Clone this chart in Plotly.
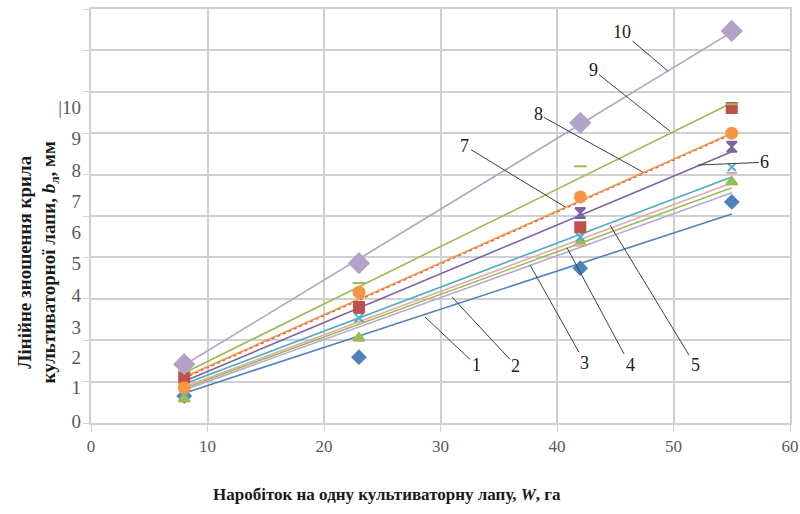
import plotly.graph_objects as go

# ---- data ----
x_points = [8, 23, 42, 55]
trend_x = [8, 55]

series_names = ["1", "2", "3", "4", "5", "6", "7", "8", "9", "10"]
line_colors = ["#4F81BD", "#B9A8D0", "#9BBB59", "#E6A9A8", "#4BACC6",
               "#8064A2", "#C0504D", "#F79646", "#9BBB59", "#B3A2C7"]
trend_start = [0.72, 0.80, 0.84, 0.87, 0.94, 1.01, 1.09, 1.11, 1.21, 1.40]
trend_end = [5.05, 5.56, 5.68, 5.80, 5.94, 6.55, 6.98, 7.00, 7.73, 9.44]

# measured points
pts_1 = [0.65, 1.59, 3.74, 5.34]
pts_3 = [0.58, 2.05, 4.35, 5.82]
pts_4 = [0.92, 2.45, 4.30, 6.04]
pts_5 = [0.75, 2.54, 4.49, 6.18]
pts_6 = [0.97, 2.78, 5.07, 6.67]
pts_7 = [1.10, 2.80, 4.73, 7.61]
pts_8 = [0.85, 3.16, 5.46, 7.00]
pts_9 = [1.25, 3.38, 6.20, 7.70]
pts_10 = [1.42, 3.86, 7.25, 9.47]

x_ticks = [0, 10, 20, 30, 40, 50, 60]
y_tick_text = ["0", "1", "2", "3", "4", "5", "6", "7", "8", "9", "|10"]
y_tick_pos = [0.05, 0.87, 1.59, 2.32, 3.09, 3.86, 4.61, 5.36, 6.11, 6.88, 7.63]

# line label: (text, text_x, text_y, target_x, target_y)
line_labels = [
    ("1", 33.05, 1.40, 28.67, 2.56),
    ("2", 36.48, 1.38, 30.99, 3.04),
    ("3", 42.40, 1.45, 37.68, 3.82),
    ("4", 46.27, 1.40, 40.86, 4.23),
    ("5", 51.85, 1.40, 44.55, 4.78),
    ("6", 57.85, 6.30, 52.10, 6.23),
    ("7", 32.10, 6.69, 40.69, 5.22),
    ("8", 38.37, 7.46, 47.38, 6.06),
    ("9", 43.09, 8.53, 49.70, 7.05),
    ("10", 45.58, 9.44, 49.53, 8.50),
]

fig = go.Figure()

# trend lines
for i, name in enumerate(series_names):
    dash = "dot" if name == "7" else "solid"
    fig.add_trace(go.Scatter(
        x=trend_x, y=[trend_start[i], trend_end[i]], mode="lines",
        line=dict(color=line_colors[i], width=1.6, dash=dash),
        showlegend=False, hoverinfo="skip"))

# markers
markers = [
    (pts_1, "#4F81BD", "diamond", 10),
    (pts_3, "#9BBB59", "triangle-up", 10),
    (pts_4, "#E6A9A8", "line-ew-open", 8),
    (pts_5, "#4BACC6", "x-thin-open", 8),
    (pts_6, "#8064A2", "hourglass", 10),
    (pts_7, "#C0504D", "square", 10),
    (pts_8, "#F79646", "circle", 11),
    (pts_9, "#9BBB59", "line-ew-open", 9),
    (pts_10, "#B3A2C7", "diamond", 15),
]
for vals, col, sym, sz in markers:
    fig.add_trace(go.Scatter(
        x=x_points, y=vals, mode="markers",
        marker=dict(symbol=sym, color=col, size=sz,
                    line=dict(color=col, width=2)),
        showlegend=False, hoverinfo="skip"))

# dummy trace on yaxis2 so it renders
fig.add_trace(go.Scatter(x=[None], y=[None], yaxis="y2", showlegend=False))

ann = []
for txt, tx, ty, px, py in line_labels:
    ann.append(dict(x=px, y=py, xref="x", yref="y", ax=tx, ay=ty,
                    axref="x", ayref="y", text=txt, showarrow=True,
                    arrowhead=0, arrowwidth=1, arrowcolor="#404040",
                    standoff=0, startstandoff=0,
                    font=dict(family="Liberation Serif", size=18, color="#1a1a1a")))

ann.append(dict(xref="paper", yref="paper", x=-0.075, y=0.389,
                xanchor="center", yanchor="middle",
                text="<b>Лінійне зношення крила<br>культиваторної лапи, <i>b</i><sub>л</sub>, мм</b>",
                textangle=-90, showarrow=False,
                font=dict(family="Liberation Serif", size=19, color="#1a1a1a")))
ann.append(dict(xref="paper", yref="paper", x=0.4235, y=-0.172,
                xanchor="center", yanchor="middle",
                text="<b>Наробіток на одну культиваторну лапу, <i>W</i>, га</b>",
                showarrow=False,
                font=dict(family="Liberation Serif", size=17, color="#1a1a1a")))

grid_col = "#D0D0D0"
fig.update_layout(
    width=800, height=514,
    margin=dict(l=91, r=10, t=9, b=91, autoexpand=False),
    paper_bgcolor="white", plot_bgcolor="white",
    font=dict(family="Liberation Serif", size=17, color="#595959"),
    xaxis=dict(range=[0, 60], tickvals=x_ticks, showgrid=True, automargin=False,
               gridcolor=grid_col, gridwidth=1.5, zeroline=False,
               showline=True, linecolor=grid_col, linewidth=1.5, mirror=True,
               ticks="outside", ticklen=7, tickcolor=grid_col,
               tickfont=dict(family="Liberation Serif", size=17, color="#595959")),
    yaxis=dict(range=[0, 10], dtick=1, showgrid=True, gridcolor=grid_col,
               automargin=False,
               gridwidth=1.5, zeroline=False, showline=True, linecolor=grid_col,
               linewidth=1.5, mirror=True, ticks="outside", ticklen=6,
               tickcolor=grid_col, showticklabels=False),
    yaxis2=dict(range=[0, 10], overlaying="y", side="left", anchor="x",
                automargin=False,
                tickvals=y_tick_pos, ticktext=y_tick_text, showgrid=False,
                zeroline=False, showline=False, ticks="", ticklabelstandoff=9,
                tickfont=dict(family="Liberation Serif", size=19, color="#595959")),
    annotations=ann,
)

fig.write_html("out.html", config={"displayModeBar": False},
               post_script="document.body.style.margin='0';document.body.style.padding='0';")
